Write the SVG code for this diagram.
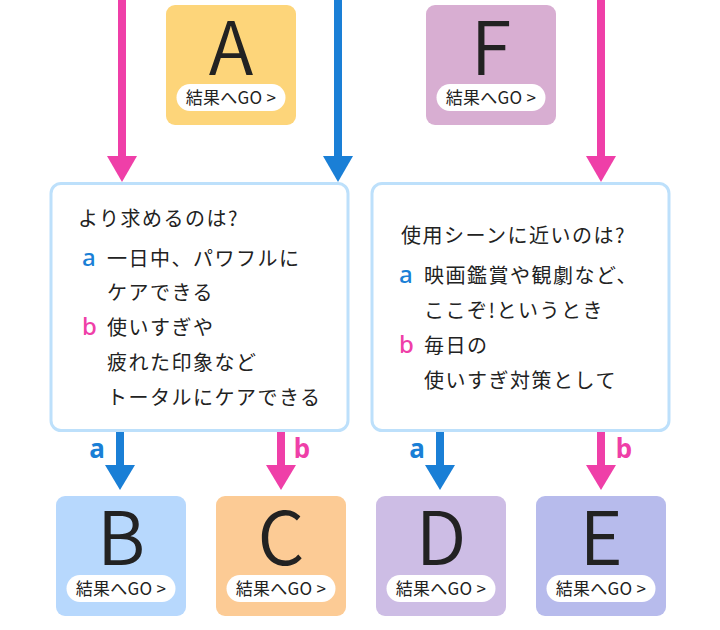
<svg xmlns="http://www.w3.org/2000/svg" width="720" height="630" viewBox="0 0 720 630">
<style>
.big{font-family:"Noto Sans CJK JP","Noto Sans",sans-serif;font-size:74px;fill:#222;text-anchor:middle;font-weight:350}
.pill{fill:#fff}
.go{font-family:"Noto Sans CJK JP","Noto Sans",sans-serif;font-size:17px;fill:#222;text-anchor:middle;letter-spacing:0.3px}
.q{fill:#fff;stroke:#bde0fb;stroke-width:3}
.t{font-family:"Noto Sans CJK JP","Noto Sans",sans-serif;font-size:20px;fill:#222;letter-spacing:1.5px}
.la{font-family:"Noto Sans","Noto Sans CJK JP",sans-serif;font-size:24px;fill:#1a7fd6;font-weight:500}
.lb{font-family:"Noto Sans","Noto Sans CJK JP",sans-serif;font-size:24px;fill:#ef3fa8;font-weight:500}
.lab{font-family:"Noto Sans","Noto Sans CJK JP",sans-serif;font-size:26px;font-weight:700;text-anchor:middle}
.pk{stroke:#ef3fa8;stroke-width:8;fill:none}
.bl{stroke:#1a7fd6;stroke-width:8;fill:none}
.pkh{fill:#ef3fa8}
.blh{fill:#1a7fd6}
</style>
<g id="connectors">
<line class="pk" x1="122" y1="0" x2="122" y2="158"/>
<polygon class="pkh" points="107,156 137,156 122,182"/>
<line class="bl" x1="338" y1="0" x2="338" y2="158"/>
<polygon class="blh" points="323,156 353,156 338,182"/>
<line class="pk" x1="601" y1="0" x2="601" y2="158"/>
<polygon class="pkh" points="586,156 616,156 601,182"/>
<line class="bl" x1="120" y1="432" x2="120" y2="467"/>
<polygon class="blh" points="105,465 135,465 120,490"/>
<text class="lab" x="97" y="458" fill="#1a7fd6">a</text>
<line class="pk" x1="281" y1="432" x2="281" y2="467"/>
<polygon class="pkh" points="266,465 296,465 281,490"/>
<text class="lab" x="302" y="458" fill="#ef3fa8">b</text>
<line class="bl" x1="440" y1="432" x2="440" y2="467"/>
<polygon class="blh" points="425,465 455,465 440,490"/>
<text class="lab" x="417" y="458" fill="#1a7fd6">a</text>
<line class="pk" x1="601" y1="432" x2="601" y2="467"/>
<polygon class="pkh" points="586,465 616,465 601,490"/>
<text class="lab" x="624" y="458" fill="#ef3fa8">b</text>
</g>
<g id="nodeA">
<rect x="166" y="5" width="130" height="120" rx="9" fill="#fdd57a"/>
<text class="big" x="231" y="75">A</text>
<rect class="pill" x="176.5" y="84" width="109" height="27" rx="13.5"/>
<text class="go" x="231" y="103.5">結果へGO &gt;</text>
</g>
<g id="nodeF">
<rect x="426" y="5" width="130" height="120" rx="9" fill="#d8aed2"/>
<text class="big" x="491" y="75">F</text>
<rect class="pill" x="436.5" y="84" width="109" height="27" rx="13.5"/>
<text class="go" x="491" y="103.5">結果へGO &gt;</text>
</g>
<g id="q1">
<rect class="q" x="51" y="183.5" width="297" height="247" rx="10"/>
<text class="t" x="78" y="226">より求めるのは?</text>
<text class="la" x="82" y="266">a</text>
<text class="t" x="107" y="266">一日中、パワフルに</text>
<text class="t" x="107" y="300">ケアできる</text>
<text class="lb" x="82" y="335">b</text>
<text class="t" x="107" y="335">使いすぎや</text>
<text class="t" x="107" y="370">疲れた印象など</text>
<text class="t" x="107" y="405">トータルにケアできる</text>
</g>
<g id="q2">
<rect class="q" x="372" y="183.5" width="297" height="247" rx="10"/>
<text class="t" x="401" y="243">使用シーンに近いのは?</text>
<text class="la" x="399" y="283">a</text>
<text class="t" x="424" y="283">映画鑑賞や観劇など、</text>
<text class="t" x="424" y="318">ここぞ!というとき</text>
<text class="lb" x="399" y="353">b</text>
<text class="t" x="424" y="353">毎日の</text>
<text class="t" x="424" y="388">使いすぎ対策として</text>
</g>
<g id="nodeB">
<rect x="56" y="496" width="130" height="120" rx="9" fill="#b7d8fd"/>
<text class="big" x="121" y="565">B</text>
<rect class="pill" x="66.5" y="575" width="109" height="27" rx="13.5"/>
<text class="go" x="121" y="594.5">結果へGO &gt;</text>
</g>
<g id="nodeC">
<rect x="216" y="496" width="130" height="120" rx="9" fill="#fccb95"/>
<text class="big" x="281" y="565">C</text>
<rect class="pill" x="226.5" y="575" width="109" height="27" rx="13.5"/>
<text class="go" x="281" y="594.5">結果へGO &gt;</text>
</g>
<g id="nodeD">
<rect x="376" y="496" width="130" height="120" rx="9" fill="#cdbde5"/>
<text class="big" x="441" y="565">D</text>
<rect class="pill" x="386.5" y="575" width="109" height="27" rx="13.5"/>
<text class="go" x="441" y="594.5">結果へGO &gt;</text>
</g>
<g id="nodeE">
<rect x="536" y="496" width="130" height="120" rx="9" fill="#b7bbec"/>
<text class="big" x="601" y="565">E</text>
<rect class="pill" x="546.5" y="575" width="109" height="27" rx="13.5"/>
<text class="go" x="601" y="594.5">結果へGO &gt;</text>
</g>
</svg>
